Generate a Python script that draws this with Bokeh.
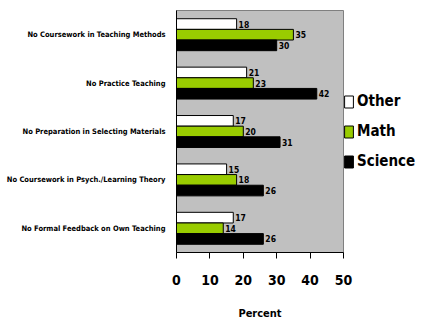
from bokeh.plotting import figure
from bokeh.models import ColumnDataSource, FactorRange, Range1d, Legend, LegendItem, FixedTicker
from bokeh.transform import dodge
from bokeh.core.properties import value
from bokeh.embed import file_html
from bokeh.resources import INLINE

categories = [
    "No Coursework in Teaching Methods",
    "No Practice Teaching",
    "No Preparation in Selecting Materials",
    "No Coursework in Psych./Learning Theory",
    "No Formal Feedback on Own Teaching",
]
other = [18, 21, 17, 15, 17]
math = [35, 23, 20, 18, 14]
science = [30, 42, 31, 26, 26]
x_ticks = [0, 10, 20, 30, 40, 50]

FONT = "'DejaVu Sans Condensed', 'Liberation Sans Narrow', 'Arial Narrow', sans-serif"

src = ColumnDataSource(dict(
    cat=categories, other=other, math=math, science=science,
    other_t=[str(v) for v in other], math_t=[str(v) for v in math], science_t=[str(v) for v in science],
))

p = figure(frame_width=167, frame_height=242, output_backend="svg", toolbar_location=None,
           y_range=FactorRange(*list(reversed(categories)), range_padding=0),
           x_range=Range1d(0, 50),
           min_border_left=176, min_border_right=95, min_border_top=10, min_border_bottom=68)
p.border_fill_color = "white"
p.background_fill_color = "#C0C0C0"
p.outline_line_color = "#808080"
p.outline_line_width = 1
p.grid.visible = False

h = 0.22
r_o = p.hbar(y=dodge("cat", h, range=p.y_range), right="other", left=0, height=h, source=src,
             fill_color="white", line_color="black", line_width=1)
r_m = p.hbar(y=dodge("cat", 0, range=p.y_range), right="math", left=0, height=h, source=src,
             fill_color="#99CC00", line_color="black", line_width=1)
r_s = p.hbar(y=dodge("cat", -h, range=p.y_range), right="science", left=0, height=h, source=src,
             fill_color="black", line_color="black", line_width=1)

for col, off in (("other", h), ("math", 0), ("science", -h)):
    p.text(x=col, y=dodge("cat", off, range=p.y_range), text=col + "_t", source=src,
           x_offset=2, text_font=value(FONT), text_font_style="bold", text_font_size="8.5px",
           text_baseline="middle", text_align="left", text_color="black")

p.xaxis.ticker = FixedTicker(ticks=x_ticks)
p.xaxis.axis_label = "Percent"
p.xaxis.axis_label_text_font = FONT
p.xaxis.axis_label_text_font_style = "bold"
p.xaxis.axis_label_text_font_size = "11px"
p.xaxis.axis_label_text_color = "black"
p.xaxis.axis_label_standoff = 19
p.xaxis.major_label_text_font = FONT
p.xaxis.major_label_text_font_style = "bold"
p.xaxis.major_label_text_font_size = "14px"
p.xaxis.major_label_text_color = "black"
p.xaxis.major_label_standoff = 16
p.xaxis.major_tick_out = 6
p.xaxis.major_tick_in = 0
p.xaxis.major_tick_line_color = "black"
p.xaxis.minor_tick_line_color = None
p.xaxis.axis_line_color = "black"

p.yaxis.major_label_text_font = FONT
p.yaxis.major_label_text_font_style = "bold"
p.yaxis.major_label_text_font_size = "7.5px"
p.yaxis.major_label_text_color = "black"
p.yaxis.major_label_standoff = 5
p.yaxis.major_tick_line_color = None
p.yaxis.axis_line_color = "black"

legend = Legend(items=[
    LegendItem(label="Other", renderers=[r_o]),
    LegendItem(label="Math", renderers=[r_m]),
    LegendItem(label="Science", renderers=[r_s]),
], location="left")
legend.label_text_font = FONT
legend.label_text_font_style = "bold"
legend.label_text_font_size = "15px"
legend.label_text_color = "black"
legend.label_height = 20
legend.glyph_width = 11
legend.glyph_height = 15
legend.spacing = 10
legend.label_standoff = 3
legend.background_fill_alpha = 0
legend.border_line_color = None
legend.padding = 10
legend.margin = 0
p.add_layout(legend, "right")

open("out.html", "w").write(file_html(p, INLINE))
